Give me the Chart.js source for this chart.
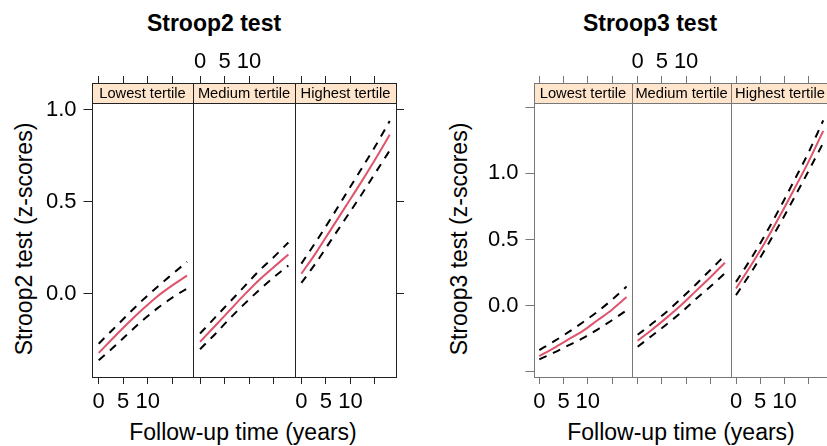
<!DOCTYPE html>
<html lang="en">
<head>
<meta charset="UTF-8">
<title>Stroop tests by tertile</title>
<script src="https://cdn.jsdelivr.net/npm/chart.js"></script>
<style>
  html, body { margin: 0; padding: 0; background: #fff; width: 827px; height: 446px; overflow: hidden; }
  body { position: relative; font-family: 'Liberation Sans', Arial, sans-serif; color: #000; }
  canvas { position: absolute; left: 0; top: 0; pointer-events: none; }
  .lbl { position: absolute; white-space: nowrap; line-height: 1; transform: translate(-50%, -50%); }
  .title { font-size: 23px; font-weight: bold; }
  .axis { font-size: 23px; }
  .rot { transform: translate(-50%, -50%) rotate(-90deg); }
</style>
</head>
<body>
<div class="lbl title" style="left:214px; top:23px">Stroop2 test</div>
<div class="lbl title" style="left:650px; top:23px">Stroop3 test</div>
<div class="lbl axis" style="left:243px; top:432px">Follow-up time (years)</div>
<div class="lbl axis" style="left:681px; top:432px">Follow-up time (years)</div>
<div class="lbl axis rot" style="left:24px; top:239px">Stroop2 test (z-scores)</div>
<div class="lbl axis rot" style="left:459px; top:239px">Stroop3 test (z-scores)</div>

<script>
// follow-up years where the fitted curves are evaluated
const years = [0, 3, 6, 9, 12, 15, 18];
const yearTicks = [0, 5, 10, 15];
const yearLabels = [0, 5, 10];
const tertiles = ['Lowest tertile', 'Medium tertile', 'Highest tertile'];

const stroop2Ticks = [0, 0.5, 1.0];
const stroop2Labels = [0, 0.5, 1.0];
const stroop3Ticks = [-0.5, 0, 0.5, 1.0, 1.5];
const stroop3Labels = [0, 0.5, 1.0];

// Stroop2: fitted trajectory with upper / lower 95% limits
const s2LowFit   = [-0.32, -0.238, -0.158, -0.082, -0.012, 0.047, 0.10];
const s2LowUpper = [-0.27, -0.19, -0.11, -0.032, 0.04, 0.108, 0.175];
const s2LowLower = [-0.36, -0.29, -0.215, -0.142, -0.077, -0.02, 0.03];
const s2MedFit   = [-0.26, -0.175, -0.09, -0.005, 0.075, 0.145, 0.215];
const s2MedUpper = [-0.215, -0.13, -0.045, 0.04, 0.125, 0.20, 0.28];
const s2MedLower = [-0.30, -0.22, -0.135, -0.055, 0.02, 0.09, 0.155];
const s2HighFit   = [0.11, 0.225, 0.35, 0.475, 0.60, 0.73, 0.865];
const s2HighUpper = [0.165, 0.285, 0.41, 0.54, 0.67, 0.80, 0.94];
const s2HighLower = [0.06, 0.17, 0.29, 0.41, 0.53, 0.655, 0.78];

// Stroop3
const s3LowFit   = [-0.38, -0.32, -0.255, -0.19, -0.11, -0.03, 0.065];
const s3LowUpper = [-0.335, -0.27, -0.2, -0.125, -0.045, 0.045, 0.145];
const s3LowLower = [-0.405, -0.355, -0.3, -0.245, -0.18, -0.11, -0.035];
const s3MedFit   = [-0.265, -0.18, -0.09, 0.005, 0.11, 0.215, 0.325];
const s3MedUpper = [-0.22, -0.135, -0.045, 0.055, 0.16, 0.27, 0.38];
const s3MedLower = [-0.31, -0.225, -0.14, -0.05, 0.05, 0.145, 0.245];
const s3HighFit   = [0.13, 0.30, 0.48, 0.675, 0.88, 1.09, 1.32];
const s3HighUpper = [0.18, 0.35, 0.535, 0.735, 0.945, 1.16, 1.40];
const s3HighLower = [0.08, 0.245, 0.425, 0.615, 0.815, 1.02, 1.23];

const FONT = '"Liberation Sans", Arial, sans-serif';
const CW = 850, CH = 446;
const STRIP_H = 20;

// strip header on top of each panel plus the panel frame
const stripPlugin = {
  id: 'strip',
  beforeDatasetsDraw(chart, args, opts) {
    const { ctx, chartArea: a } = chart;
    const L = Math.round(a.left), R = Math.round(a.right), T = Math.round(a.top);
    ctx.save();
    ctx.fillStyle = '#ffe5cc';
    ctx.fillRect(L, T, R - L, STRIP_H);
    ctx.fillStyle = '#000';
    ctx.font = '14.7px ' + FONT;
    ctx.textAlign = 'center';
    ctx.textBaseline = 'middle';
    ctx.fillText(opts.label, (L + R) / 2, T + STRIP_H / 2 + 1);
    ctx.restore();
  },
  afterDraw(chart, args, opts) {
    const { ctx, chartArea: a } = chart;
    const L = Math.round(a.left) + 0.5, R = Math.round(a.right) + 0.5;
    const T = Math.round(a.top) + 0.5, B = Math.round(a.bottom) + 0.5;
    ctx.save();
    ctx.strokeStyle = opts.color;
    ctx.lineWidth = 1;
    ctx.strokeRect(L, T, R - L, B - T);
    ctx.beginPath();
    ctx.moveTo(L, T + STRIP_H);
    ctx.lineTo(R, T + STRIP_H);
    ctx.stroke();
    ctx.restore();
  }
};

function makePanel(p) {
  const canvas = document.createElement('canvas');
  canvas.width = CW;
  canvas.height = CH;
  document.body.appendChild(canvas);

  const tickFont = { family: FONT, size: 22 };
  const pts = ys => years.map((x, i) => ({ x: x, y: ys[i] }));
  const dashed = ys => ({
    data: pts(ys), borderColor: '#000', borderWidth: 2, borderDash: [8, 7],
    pointRadius: 0, cubicInterpolationMode: 'monotone'
  });
  const xTicks = s => { s.ticks = yearTicks.map(v => ({ value: v })); };
  const yTicks = s => { s.ticks = p.yTicks.map(v => ({ value: v })); };

  return new Chart(canvas, {
    type: 'line',
    data: {
      datasets: [
        dashed(p.upper),
        dashed(p.lower),
        { data: pts(p.fit), borderColor: '#df536b', borderWidth: 2, pointRadius: 0,
          cubicInterpolationMode: 'monotone' }
      ]
    },
    options: {
      responsive: false,
      animation: false,
      devicePixelRatio: 1,
      layout: { padding: 0 },
      plugins: {
        legend: { display: false },
        tooltip: { enabled: false },
        strip: { label: p.strip, color: p.frame }
      },
      scales: {
        x: {
          type: 'linear', position: 'bottom', min: p.xMin, max: p.xMax,
          afterBuildTicks: xTicks,
          afterFit: s => { s.height = CH - p.box.bottom; },
          border: { display: false },
          grid: { drawOnChartArea: false, tickLength: 7, color: p.frame },
          ticks: {
            autoSkip: false, maxRotation: 0, minRotation: 0, padding: 4.5,
            color: '#000', font: tickFont,
            callback: v => (p.bottomLabels && yearLabels.includes(v)) ? String(v) : ''
          }
        },
        x2: {
          type: 'linear', position: 'top', min: p.xMin, max: p.xMax,
          afterBuildTicks: xTicks,
          afterFit: s => { s.height = p.box.top; },
          border: { display: false },
          grid: { drawOnChartArea: false, tickLength: 7, color: p.frame },
          ticks: {
            autoSkip: false, maxRotation: 0, minRotation: 0, padding: 1.2,
            color: '#000', font: tickFont,
            callback: v => (p.topLabels && yearLabels.includes(v)) ? String(v) : ''
          }
        },
        y: {
          type: 'linear', position: 'left', min: p.yMin, max: p.yMax,
          afterBuildTicks: yTicks,
          afterFit: s => { s.width = p.box.left; },
          border: { display: false },
          grid: { display: p.leftTicks, drawOnChartArea: false, tickLength: 8.5, color: p.frame },
          ticks: {
            autoSkip: false, padding: 7, color: '#000', font: tickFont,
            callback: v => (p.leftTicks && p.yLabels.includes(v)) ? v.toFixed(1) : ''
          }
        },
        y2: {
          type: 'linear', position: 'right', min: p.yMin, max: p.yMax,
          afterBuildTicks: yTicks,
          afterFit: s => { s.width = CW - p.box.right; },
          border: { display: false },
          grid: { display: p.rightTicks, drawOnChartArea: false, tickLength: 8, color: p.frame },
          ticks: { autoSkip: false, padding: 4, font: tickFont, callback: () => '' }
        }
      }
    },
    plugins: [stripPlugin]
  });
}

// Stroop2 panels
const s2Edges = [92, 193.33, 294.67, 396];
const s2Series = [
  [s2LowFit, s2LowUpper, s2LowLower],
  [s2MedFit, s2MedUpper, s2MedLower],
  [s2HighFit, s2HighUpper, s2HighLower]
];
s2Series.forEach((s, i) => makePanel({
  box: { left: s2Edges[i], right: s2Edges[i + 1], top: 83, bottom: 377 },
  xMin: -1.365, xMax: 19.285, yMin: -0.4511, yMax: 1.1467,
  yTicks: stroop2Ticks, yLabels: stroop2Labels,
  fit: s[0], upper: s[1], lower: s[2],
  strip: tertiles[i], frame: '#222',
  bottomLabels: i !== 1, topLabels: i === 1,
  leftTicks: i === 0, rightTicks: i === 2
}));

// Stroop3 panels
const s3Edges = [534, 632.35, 730.7, 829.05];
const s3Series = [
  [s3LowFit, s3LowUpper, s3LowLower],
  [s3MedFit, s3MedUpper, s3MedLower],
  [s3HighFit, s3HighUpper, s3HighLower]
];
s3Series.forEach((s, i) => makePanel({
  box: { left: s3Edges[i], right: s3Edges[i + 1], top: 83, bottom: 377 },
  xMin: -1.094, xMax: 19.197, yMin: -0.5385, yMax: 1.682,
  yTicks: stroop3Ticks, yLabels: stroop3Labels,
  fit: s[0], upper: s[1], lower: s[2],
  strip: tertiles[i], frame: '#777',
  bottomLabels: i !== 1, topLabels: i === 1,
  leftTicks: i === 0, rightTicks: i === 2
}));
</script>
</body>
</html>
